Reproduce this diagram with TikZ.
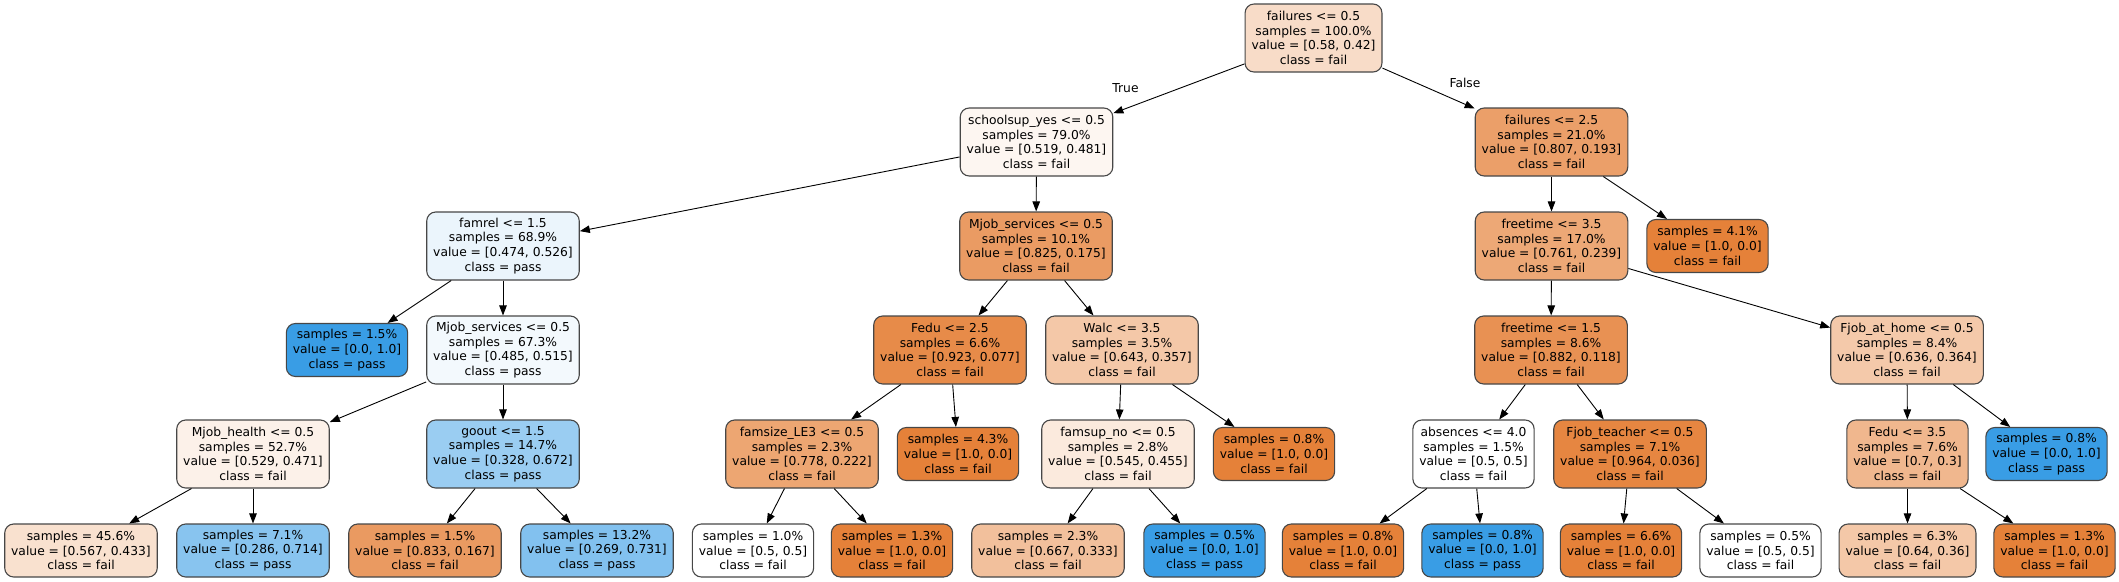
\documentclass[tikz,border=0pt]{standalone}
\usepackage{fontspec}
\setmainfont{DejaVu Sans}
\usetikzlibrary{arrows.meta}
\definecolor{cfail}{RGB}{229,129,57}
\definecolor{cpass}{RGB}{57,157,229}
\newcommand\dtxt[4]{#1\\samples = #2\%\\value = [#3]\\class = #4}
\newcommand\ltxt[3]{samples = #1\%\\value = [#2]\\class = #3}
\tikzset{
  box/.style={draw=black!72, line width=1.1pt, rounded corners=9pt, align=center,
    inner xsep=6.5pt, inner ysep=0pt, font=\fontsize{12.3}{14.8}\selectfont},
  dec/.style={box, minimum height=68pt},
  leaf/.style={box, minimum height=53pt},
  arr/.style={-{Triangle[length=10pt,width=7.5pt]}, line width=0.9pt, black},
  lbl/.style={inner sep=0pt, font=\fontsize{12.3}{14.8}\selectfont},
}
\begin{document}
\begin{tikzpicture}[x=1pt,y=-1pt]
\useasboundingbox (0,0) rectangle (2119,581);
% rank 0
\node[dec, fill=cfail!28!white] (n0) at (1313.5,38) {\dtxt{failures <= 0.5}{100.0}{0.58, 0.42}{fail}};
% rank 1
\node[dec, fill=cfail!7!white] (n1) at (1036.5,142) {\dtxt{schoolsup\_yes <= 0.5}{79.0}{0.519, 0.481}{fail}};
\node[dec, fill=cfail!76!white] (n2) at (1551.5,142) {\dtxt{failures <= 2.5}{21.0}{0.807, 0.193}{fail}};
% rank 2
\node[dec, fill=cpass!10!white] (n3) at (503,246) {\dtxt{famrel <= 1.5}{68.9}{0.474, 0.526}{pass}};
\node[dec, fill=cfail!79!white] (n4) at (1036,246) {\dtxt{Mjob\_services <= 0.5}{10.1}{0.825, 0.175}{fail}};
\node[dec, fill=cfail!69!white] (n5) at (1551.5,246) {\dtxt{freetime <= 3.5}{17.0}{0.761, 0.239}{fail}};
\node[leaf, fill=cfail] (n6) at (1707.5,246) {\ltxt{4.1}{1.0, 0.0}{fail}};
% rank 3
\node[leaf, fill=cpass] (n7) at (347,350) {\ltxt{1.5}{0.0, 1.0}{pass}};
\node[dec, fill=cpass!6!white] (n8) at (503,350) {\dtxt{Mjob\_services <= 0.5}{67.3}{0.485, 0.515}{pass}};
\node[dec, fill=cfail!92!white] (n9) at (950,350) {\dtxt{Fedu <= 2.5}{6.6}{0.923, 0.077}{fail}};
\node[dec, fill=cfail!44!white] (n10) at (1122,350) {\dtxt{Walc <= 3.5}{3.5}{0.643, 0.357}{fail}};
\node[dec, fill=cfail!87!white] (n11) at (1551,350) {\dtxt{freetime <= 1.5}{8.6}{0.882, 0.118}{fail}};
\node[dec, fill=cfail!43!white] (n12) at (1907,350) {\dtxt{Fjob\_at\_home <= 0.5}{8.4}{0.636, 0.364}{fail}};
% rank 4
\node[dec, fill=cfail!11!white] (n13) at (253,454) {\dtxt{Mjob\_health <= 0.5}{52.7}{0.529, 0.471}{fail}};
\node[dec, fill=cpass!51!white] (n14) at (503,454) {\dtxt{goout <= 1.5}{14.7}{0.328, 0.672}{pass}};
\node[dec, fill=cfail!71!white] (n15) at (802,454) {\dtxt{famsize\_LE3 <= 0.5}{2.3}{0.778, 0.222}{fail}};
\node[leaf, fill=cfail] (n16) at (958,454) {\ltxt{4.3}{1.0, 0.0}{fail}};
\node[dec, fill=cfail!17!white] (n17) at (1118,454) {\dtxt{famsup\_no <= 0.5}{2.8}{0.545, 0.455}{fail}};
\node[leaf, fill=cfail] (n18) at (1274,454) {\ltxt{0.8}{1.0, 0.0}{fail}};
\node[dec, fill=white] (n19) at (1473.5,454) {\dtxt{absences <= 4.0}{1.5}{0.5, 0.5}{fail}};
\node[dec, fill=cfail!96!white] (n20) at (1630,454) {\dtxt{Fjob\_teacher <= 0.5}{7.1}{0.964, 0.036}{fail}};
\node[dec, fill=cfail!57!white] (n21) at (1907.5,454) {\dtxt{Fedu <= 3.5}{7.6}{0.7, 0.3}{fail}};
\node[leaf, fill=cpass] (n22) at (2046.5,454) {\ltxt{0.8}{0.0, 1.0}{pass}};
% rank 5
\node[leaf, fill=cfail!24!white] (n23) at (81,550.5) {\ltxt{45.6}{0.567, 0.433}{fail}};
\node[leaf, fill=cpass!60!white] (n24) at (253,550.5) {\ltxt{7.1}{0.286, 0.714}{pass}};
\node[leaf, fill=cfail!80!white] (n25) at (425,550.5) {\ltxt{1.5}{0.833, 0.167}{fail}};
\node[leaf, fill=cpass!63!white] (n26) at (597,550.5) {\ltxt{13.2}{0.269, 0.731}{pass}};
\node[leaf, fill=white] (n27) at (753,550.5) {\ltxt{1.0}{0.5, 0.5}{fail}};
\node[leaf, fill=cfail] (n28) at (892,550.5) {\ltxt{1.3}{1.0, 0.0}{fail}};
\node[leaf, fill=cfail!50!white] (n29) at (1048,550.5) {\ltxt{2.3}{0.667, 0.333}{fail}};
\node[leaf, fill=cpass] (n30) at (1204.5,550.5) {\ltxt{0.5}{0.0, 1.0}{pass}};
\node[leaf, fill=cfail] (n31) at (1343,550.5) {\ltxt{0.8}{1.0, 0.0}{fail}};
\node[leaf, fill=cpass] (n32) at (1482.5,550.5) {\ltxt{0.8}{0.0, 1.0}{pass}};
\node[leaf, fill=cfail] (n33) at (1621,550.5) {\ltxt{6.6}{1.0, 0.0}{fail}};
\node[leaf, fill=white] (n34) at (1760.5,550.5) {\ltxt{0.5}{0.5, 0.5}{fail}};
\node[leaf, fill=cfail!44!white] (n35) at (1907.5,550.5) {\ltxt{6.3}{0.64, 0.36}{fail}};
\node[leaf, fill=cfail] (n36) at (2054.5,550.5) {\ltxt{1.3}{1.0, 0.0}{fail}};
% edge labels
\node[lbl] (tl) at (1125.5,88) {True};
\node[lbl] (fl) at (1465,83) {False};
% edges
\foreach \a/\b in {n0/n1,n0/n2,n1/n3,n1/n4,n3/n7,n3/n8,n8/n13,n8/n14,n13/n23,n13/n24,
  n14/n25,n14/n26,n4/n9,n4/n10,n9/n15,n9/n16,n15/n27,n15/n28,n10/n17,n10/n18,
  n17/n29,n17/n30,n2/n5,n2/n6,n5/n11,n5/n12,n11/n19,n11/n20,n19/n31,n19/n32,
  n20/n33,n20/n34,n12/n21,n12/n22,n21/n35,n21/n36}
  \draw[arr] (\a) -- (\b);
\end{tikzpicture}
\end{document}
